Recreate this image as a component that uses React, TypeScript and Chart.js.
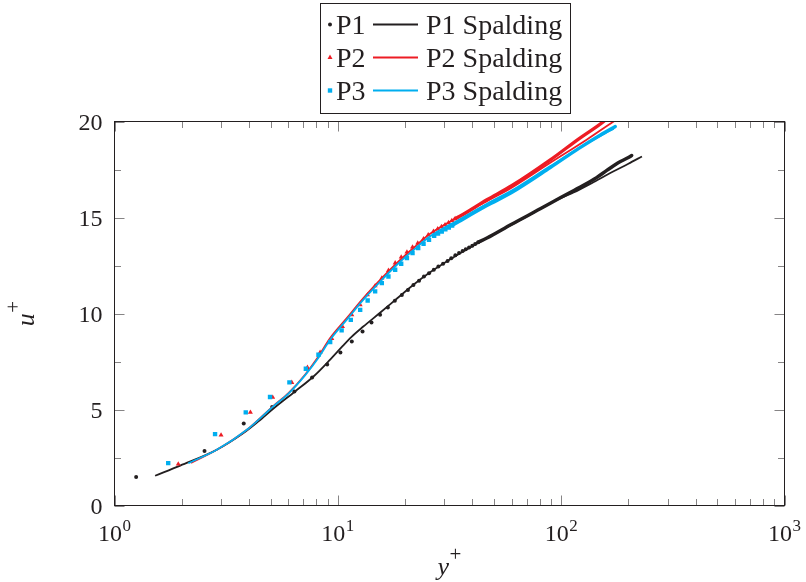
import React, { useEffect, useRef } from "react";
import { Chart, registerables } from "chart.js";

Chart.register(...registerables);

// ---------- data ----------
// P1 (black dots)
const P1_YPLUS = [1.25, 2.53, 3.79, 5.08, 6.39, 7.67, 8.96, 10.27, 11.55, 12.9, 14.15, 15.46, 16.75, 18.0, 19.35, 20.6, 21.8, 23.1, 24.3, 25.6, 26.9, 28.2, 29.6, 31.0, 32.2, 33.6, 34.9, 36.2, 37.4, 38.7, 40.0, 41.2, 42.5];
const P1_UPLUS = [1.48, 2.84, 4.27, 5.13, 5.94, 6.67, 7.34, 7.97, 8.54, 9.06, 9.53, 9.93, 10.31, 10.66, 10.97, 11.23, 11.49, 11.7, 11.93, 12.1, 12.28, 12.45, 12.59, 12.74, 12.88, 13.04, 13.15, 13.25, 13.35, 13.44, 13.53, 13.62, 13.71];
// P1 dense part (points merge into a band)
const P1_DENSE_YPLUS = [42.5, 46.5, 60, 80.6, 100, 120, 144, 160, 180, 200, 207];
const P1_DENSE_UPLUS = [13.71, 13.93, 14.65, 15.45, 16.05, 16.55, 17.08, 17.45, 17.85, 18.12, 18.23];
// P1 Spalding
const P1S_YPLUS = [1.52, 1.97, 2.87, 3.78, 4.41, 5.15, 6.43, 7.78, 9.24, 10.5, 11.55, 13.0, 15.5, 18.4, 21.8, 25.9, 34.7, 46.5, 60, 80.6, 89.4, 113.6, 140, 170, 200, 230];
const P1S_UPLUS = [1.55, 2.08, 2.9, 3.77, 4.38, 5.05, 5.94, 6.72, 7.6, 8.3, 8.8, 9.32, 10.05, 10.78, 11.5, 12.15, 13.09, 13.93, 14.63, 15.45, 15.75, 16.3, 16.85, 17.38, 17.8, 18.18];

// P2 (red triangles)
const P2_YPLUS = [1.93, 3.0, 4.06, 5.11, 6.22, 7.31, 8.33, 9.4, 10.49, 11.55, 12.59, 13.57, 14.69, 15.74, 16.85, 18.06, 19.22, 20.39, 21.6, 22.8, 24.2, 25.4, 26.8, 28.0, 29.1, 30.2, 31.3, 32.4, 33.5];
const P2_UPLUS = [2.16, 3.67, 4.85, 5.63, 6.41, 7.19, 7.97, 8.7, 9.32, 9.93, 10.45, 10.97, 11.44, 11.84, 12.24, 12.63, 12.94, 13.2, 13.46, 13.67, 13.89, 14.1, 14.27, 14.4, 14.52, 14.62, 14.73, 14.84, 14.94];
const P2_DENSE_YPLUS = [33.5, 35, 46.5, 60, 89.4, 120, 154.9, 165];
const P2_DENSE_UPLUS = [14.94, 15.05, 15.92, 16.65, 18.0, 19.1, 20.0, 20.3];
// P2 Spalding
const P2S_YPLUS = [2.2, 2.87, 3.97, 5.15, 6.01, 7.13, 8.19, 9.24, 10.97, 13.02, 15.47, 18.4, 21.8, 25.9, 35, 46.5, 60, 89.4, 130, 171.7, 180];
const P2S_UPLUS = [2.22, 2.9, 4.0, 5.19, 5.85, 6.81, 7.76, 8.72, 9.76, 10.8, 11.75, 12.63, 13.41, 14.15, 15.05, 15.85, 16.55, 17.85, 19.05, 20.0, 20.15];

// P3 (cyan squares)
const P3_YPLUS = [1.74, 2.82, 3.87, 4.97, 6.07, 7.19, 8.19, 9.24, 10.4, 11.43, 12.59, 13.6, 14.69, 15.74, 16.85, 18.06, 19.22, 20.39, 21.6, 22.9, 24.2, 25.6, 27.0, 28.1, 29.2, 30.3, 31.4, 32.5];
const P3_UPLUS = [2.21, 3.72, 4.85, 5.65, 6.41, 7.12, 7.85, 8.51, 9.12, 9.67, 10.19, 10.68, 11.15, 11.58, 11.93, 12.28, 12.59, 12.89, 13.15, 13.41, 13.63, 13.84, 14.05, 14.16, 14.27, 14.38, 14.48, 14.58];
const P3_DENSE_YPLUS = [32.5, 35, 46.5, 60, 89.4, 120, 150, 174.7];
const P3_DENSE_UPLUS = [14.58, 14.8, 15.62, 16.3, 17.6, 18.6, 19.3, 19.74];
// P3 Spalding
const P3S_YPLUS = [2.14, 2.87, 3.97, 5.15, 6.01, 7.13, 8.19, 9.24, 10.97, 13.02, 15.47, 18.4, 21.8, 25.9, 35, 46.5, 60, 89.4, 130, 172];
const P3S_UPLUS = [2.2, 2.9, 4.0, 5.17, 5.83, 6.78, 7.7, 8.63, 9.68, 10.72, 11.66, 12.54, 13.3, 14.02, 14.9, 15.72, 16.4, 17.68, 18.85, 19.62];

// axes / ticks
const X_MIN = 1;
const X_MAX = 1000;
const Y_MIN = 0;
const Y_MAX = 20;
const X_MAJOR_TICKS = [1, 10, 100, 1000];
const X_TICK_EXPONENTS = ["0", "1", "2", "3"];
const X_MINOR_MULTIPLIERS = [2, 3, 4, 5, 6, 7, 8, 9];
const Y_MAJOR_TICKS = [0, 5, 10, 15, 20];
const Y_MINOR_TICKS = [2.5, 7.5, 12.5, 17.5];
const X_TITLE = "y";
const Y_TITLE = "u";
const TITLE_SUP = "+";
const LEGEND_ROWS = [
  { marker: "P1", line: "P1 Spalding" },
  { marker: "P2", line: "P2 Spalding" },
  { marker: "P3", line: "P3 Spalding" },
];

// ---------- styles ----------
const BLACK = "#231f20";
const RED = "#ed1c24";
const CYAN = "#00aeef";
const COLORS = [BLACK, RED, CYAN];
const MARKERS = ["circle", "triangle", "rect"];
const SERIF = '"Liberation Serif", "Times New Roman", serif';

const pts = (xs: number[], ys: number[]) => xs.map((x, i) => ({ x, y: ys[i] }));

function drawMarker(ctx: CanvasRenderingContext2D, kind: string, x: number, y: number, color: string) {
  ctx.save();
  ctx.fillStyle = color;
  ctx.beginPath();
  if (kind === "circle") {
    ctx.arc(x, y, 2, 0, Math.PI * 2);
  } else if (kind === "triangle") {
    const r = 2.9;
    ctx.moveTo(x, y - r);
    ctx.lineTo(x + r * 0.866, y + r * 0.5);
    ctx.lineTo(x - r * 0.866, y + r * 0.5);
    ctx.closePath();
  } else {
    ctx.rect(x - 2.2, y - 2.2, 4.4, 4.4);
  }
  ctx.fill();
  ctx.restore();
}

function drawSup(
  ctx: CanvasRenderingContext2D,
  base: string,
  sup: string,
  x: number,
  y: number,
  baseFont: string,
  supFont: string,
  rise: number,
  align: "left" | "center"
) {
  ctx.font = baseFont;
  const wb = ctx.measureText(base).width;
  ctx.font = supFont;
  const ws = ctx.measureText(sup).width;
  const gap = 0.5;
  const total = wb + gap + ws;
  const x0 = align === "center" ? x - total / 2 : x;
  ctx.textAlign = "left";
  ctx.textBaseline = "alphabetic";
  ctx.font = baseFont;
  ctx.fillText(base, x0, y);
  ctx.font = supFont;
  ctx.fillText(sup, x0 + wb + gap, y - rise);
}

const framePlugin = {
  id: "pgfFrame",
  afterDatasetsDraw(chart: any) {
    const { ctx, chartArea } = chart;
    const xs = chart.scales.x;
    const ys = chart.scales.y;
    const { left, right, top, bottom } = chartArea;
    ctx.save();

    // ticks (inward, both sides)
    ctx.strokeStyle = "rgba(35,31,32,0.55)";
    ctx.lineWidth = 1;
    const MAJ = 10;
    const MIN = 6.5;
    const vline = (px: number, len: number) => {
      const p = Math.round(px) + 0.5;
      ctx.beginPath();
      ctx.moveTo(p, bottom);
      ctx.lineTo(p, bottom - len);
      ctx.moveTo(p, top);
      ctx.lineTo(p, top + len);
      ctx.stroke();
    };
    const hline = (py: number, len: number) => {
      const p = Math.round(py) + 0.5;
      ctx.beginPath();
      ctx.moveTo(left, p);
      ctx.lineTo(left + len, p);
      ctx.moveTo(right, p);
      ctx.lineTo(right - len, p);
      ctx.stroke();
    };
    X_MAJOR_TICKS.forEach((v) => vline(xs.getPixelForValue(v), MAJ));
    X_MAJOR_TICKS.slice(0, -1).forEach((d) =>
      X_MINOR_MULTIPLIERS.forEach((m) => vline(xs.getPixelForValue(d * m), MIN))
    );
    Y_MAJOR_TICKS.forEach((v) => hline(ys.getPixelForValue(v), MAJ));
    Y_MINOR_TICKS.forEach((v) => hline(ys.getPixelForValue(v), MIN));

    // frame
    ctx.strokeStyle = BLACK;
    ctx.lineWidth = 1;
    ctx.strokeRect(left, top, right - left, bottom - top);

    // tick labels
    ctx.fillStyle = BLACK;
    const tickFont = `24px ${SERIF}`;
    const supFont = `17px ${SERIF}`;
    ctx.font = tickFont;
    ctx.textAlign = "right";
    ctx.textBaseline = "alphabetic";
    Y_MAJOR_TICKS.forEach((v) => {
      ctx.fillText(String(v), left - 12, ys.getPixelForValue(v) + 8);
    });
    X_MAJOR_TICKS.forEach((v, i) => {
      drawSup(ctx, "10", X_TICK_EXPONENTS[i], xs.getPixelForValue(v), bottom + 35, tickFont, supFont, 10, "center");
    });

    // axis titles
    const titleFont = `italic 26px ${SERIF}`;
    const titleSup = `21px ${SERIF}`;
    drawSup(ctx, X_TITLE, TITLE_SUP, (left + right) / 2, 575, titleFont, titleSup, 14, "center");
    ctx.save();
    ctx.translate(34, (top + bottom) / 2);
    ctx.rotate(-Math.PI / 2);
    drawSup(ctx, Y_TITLE, TITLE_SUP, 0, 0, titleFont, titleSup, 14, "center");
    ctx.restore();

    // legend
    const bx = 320.5, by = 3.5, bw = 250, bh = 110;
    ctx.fillStyle = "#fff";
    ctx.fillRect(bx, by, bw, bh);
    ctx.strokeStyle = BLACK;
    ctx.lineWidth = 1;
    ctx.strokeRect(bx, by, bw, bh);
    const legendFont = `28px ${SERIF}`;
    LEGEND_ROWS.forEach((row, i) => {
      const cy = 24.5 + i * 33;
      drawMarker(ctx, MARKERS[i], 330, cy, COLORS[i]);
      ctx.fillStyle = BLACK;
      ctx.font = legendFont;
      ctx.textAlign = "left";
      ctx.textBaseline = "alphabetic";
      ctx.fillText(row.marker, 336, cy + 9.5);
      ctx.strokeStyle = COLORS[i];
      ctx.lineWidth = 2;
      ctx.beginPath();
      ctx.moveTo(373, cy);
      ctx.lineTo(418, cy);
      ctx.stroke();
      ctx.fillStyle = BLACK;
      ctx.fillText(row.line, 426, cy + 9.5);
    });

    ctx.restore();
  },
};

export default function App() {
  const canvasRef = useRef<HTMLCanvasElement | null>(null);

  useEffect(() => {
    if (!canvasRef.current) return;
    const pointSet = (label: string, xs: number[], ys: number[], i: number, order: number) => ({
      label,
      data: pts(xs, ys),
      showLine: false,
      pointStyle: MARKERS[i],
      pointRadius: i === 0 ? 2 : i === 1 ? 2.9 : 3.1,
      pointBorderWidth: 0,
      pointBackgroundColor: COLORS[i],
      borderColor: COLORS[i],
      backgroundColor: COLORS[i],
      order,
    });
    const bandSet = (label: string, xs: number[], ys: number[], i: number, order: number) => ({
      label,
      data: pts(xs, ys),
      showLine: true,
      pointRadius: 0,
      borderColor: COLORS[i],
      borderWidth: 3.4,
      borderCapStyle: "round",
      borderJoinStyle: "round",
      cubicInterpolationMode: "monotone",
      order,
    });
    const lineSet = (label: string, xs: number[], ys: number[], i: number, order: number) => ({
      label,
      data: pts(xs, ys),
      showLine: true,
      pointRadius: 0,
      borderColor: COLORS[i],
      borderWidth: 1.8,
      cubicInterpolationMode: "monotone",
      order,
    });

    const chart = new Chart(canvasRef.current, {
      type: "scatter",
      data: {
        datasets: [
          pointSet("P1", P1_YPLUS, P1_UPLUS, 0, 9),
          bandSet("P1 dense", P1_DENSE_YPLUS, P1_DENSE_UPLUS, 0, 8),
          lineSet("P1 Spalding", P1S_YPLUS, P1S_UPLUS, 0, 7),
          pointSet("P2", P2_YPLUS, P2_UPLUS, 1, 6),
          bandSet("P2 dense", P2_DENSE_YPLUS, P2_DENSE_UPLUS, 1, 5),
          lineSet("P2 Spalding", P2S_YPLUS, P2S_UPLUS, 1, 4),
          pointSet("P3", P3_YPLUS, P3_UPLUS, 2, 3),
          bandSet("P3 dense", P3_DENSE_YPLUS, P3_DENSE_UPLUS, 2, 2),
          lineSet("P3 Spalding", P3S_YPLUS, P3S_UPLUS, 2, 1),
        ] as any,
      },
      options: {
        animation: false,
        responsive: false,
        devicePixelRatio: 1,
        events: [],
        layout: { padding: { left: 114.5, right: 21.5, top: 121.5, bottom: 76.5 } },
        scales: {
          x: { type: "logarithmic", min: X_MIN, max: X_MAX, display: false },
          y: { type: "linear", min: Y_MIN, max: Y_MAX, display: false },
        },
        plugins: {
          legend: { display: false },
          tooltip: { enabled: false },
        },
      },
      plugins: [framePlugin],
    });
    return () => chart.destroy();
  }, []);

  return (
    <div style={{ position: "absolute", left: 0, top: 0, width: 806, height: 582, background: "#fff" }}>
      <canvas ref={canvasRef} width={806} height={582} style={{ display: "block" }} />
    </div>
  );
}
